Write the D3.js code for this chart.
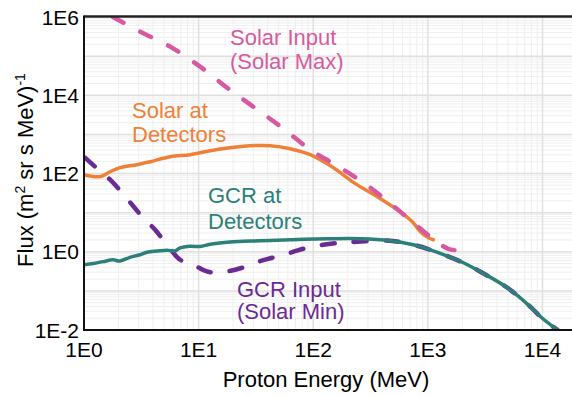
<!DOCTYPE html>
<html>
<head>
<meta charset="utf-8">
<script src="https://cdn.jsdelivr.net/npm/d3@7"></script>
<style>
  body { margin: 0; background: #fff; }
  svg { display: block; font-family: "Liberation Sans", Arial, sans-serif; }
</style>
</head>
<body>
<svg id="chart" width="572" height="396"></svg>
<script>
// proton energy (MeV) and flux ((m2 sr s MeV)^-1)
var solarInputE = [1.79, 3.08, 5.64, 10.3, 17.7, 29.9, 53.6, 94.2, 172, 315, 575, 1052, 1510, 2128];
var solarInputF = [1.0e6, 4.24e5, 1.75e5, 5.39e4, 1.56e4, 5110, 1480, 406, 141, 43.3, 10.5, 2.42, 1.19, 1.06];

var solarDetE = [1, 1.38, 1.69, 2.06, 2.90, 3.77, 5.64, 8.43, 12.6, 18.8, 28.2, 42.1, 63, 94, 150, 233, 362, 575, 732, 860, 1010, 1117];
var solarDetF = [93, 83, 111, 141, 168, 200, 269, 303, 383, 457, 514, 514, 431, 303, 141, 55, 25.5, 10.5, 5.85, 3.25, 2.28, 2.03];

var gcrInputE = [1.02, 1.25, 1.69, 2.15, 2.63, 3.28, 4.17, 5.31, 6.89, 8.95, 12.1, 17.0, 24.0, 33.1, 43.9, 63, 88.7, 122, 172, 242, 470, 747, 1052, 2042, 2875, 4945, 7850, 9620, 13800];
var gcrInputF = [254, 149, 69.4, 32.3, 15.9, 7.41, 3.65, 1.51, 0.624, 0.465, 0.308, 0.308, 0.39, 0.555, 0.703, 0.942, 1.27, 1.51, 1.70, 1.80, 1.91, 1.51, 1.12, 0.523, 0.308, 0.12, 0.039, 0.0218, 0.0095];

var gcrDetE = [1, 1.20, 1.47, 1.79, 2.06, 2.52, 3.08, 3.55, 4.34, 5.31, 6.23, 6.89, 8.43, 10.3, 12.6, 18.8, 34.4, 63, 141, 257, 470, 747, 1052, 2042, 2875, 4945, 7850, 9620, 13800];
var gcrDetF = [0.465, 0.50, 0.56, 0.62, 0.58, 0.72, 0.84, 0.97, 1.04, 1.10, 1.05, 1.25, 1.38, 1.36, 1.55, 1.78, 1.91, 2.03, 2.15, 2.15, 1.91, 1.51, 1.12, 0.523, 0.308, 0.12, 0.039, 0.0218, 0.0095];

var xTickValues = [1, 10, 100, 1000, 10000];
var xTickLabels = ["1E0", "1E1", "1E2", "1E3", "1E4"];
var yTickValues = [1e-2, 1e0, 1e2, 1e4, 1e6];
var yTickLabels = ["1E-2", "1E0", "1E2", "1E4", "1E6"];

var svg = d3.select("#chart");
var padL = 84, padR = 577, padT = 17, padB = 330, W = 572;

var x = d3.scaleLog().domain([1, 2e4]).range([padL, padR]);
var y = d3.scaleLog().domain([1e-2, 1e6]).range([padB, padT]);

// grid
var grid = svg.append("g");
var minorX = [], minorY = [];
for (var p = 0; p <= 4; p++) {
    for (var m = 2; m <= 9; m++) {
        if (m * Math.pow(10, p) <= 2e4) minorX.push(m * Math.pow(10, p));
    }
}
for (var q = -2; q < 6; q++) {
    for (var n = 2; n <= 9; n++) minorY.push(n * Math.pow(10, q));
}
grid.selectAll(".mx").data(minorX).enter().append("line")
    .attr("x1", d => x(d)).attr("x2", d => x(d))
    .attr("y1", padT).attr("y2", padB)
    .attr("stroke", "#efefef").attr("stroke-width", 1);
grid.selectAll(".my").data(minorY).enter().append("line")
    .attr("x1", padL).attr("x2", W)
    .attr("y1", d => y(d)).attr("y2", d => y(d))
    .attr("stroke", "#efefef").attr("stroke-width", 1);
grid.selectAll(".Mx").data([10, 100, 1000, 10000]).enter().append("line")
    .attr("x1", d => x(d)).attr("x2", d => x(d))
    .attr("y1", padT).attr("y2", padB)
    .attr("stroke", "#e0e0e0").attr("stroke-width", 1.5);
grid.selectAll(".My").data([1e-1, 1, 10, 100, 1e3, 1e4, 1e5]).enter().append("line")
    .attr("x1", padL).attr("x2", W)
    .attr("y1", d => y(d)).attr("y2", d => y(d))
    .attr("stroke", "#e0e0e0").attr("stroke-width", 1.5);

// curves
svg.append("clipPath").attr("id", "clip").append("rect")
    .attr("x", padL).attr("y", padT).attr("width", W - padL).attr("height", padB - padT);
var plot = svg.append("g").attr("clip-path", "url(#clip)");
var line = d3.line().x(d => x(d[0])).y(d => y(d[1])).curve(d3.curveCatmullRom.alpha(0.5));

function draw(E, F, colour, width, dash) {
    var path = plot.append("path")
        .datum(E.map((e, i) => [e, F[i]]))
        .attr("d", line)
        .attr("fill", "none")
        .attr("stroke", colour)
        .attr("stroke-width", width)
        .attr("stroke-linejoin", "round")
        .attr("stroke-linecap", "round");
    if (dash) path.attr("stroke-dasharray", dash);
}

draw(gcrInputE, gcrInputF, "#6c2a93", 4.5, "13,19");
draw(gcrDetE, gcrDetF, "#2b8079", 3.5);
draw(solarDetE, solarDetF, "#ee8137", 3.5);
draw(solarInputE, solarInputF, "#d75aa0", 4.5, "12,19");

// axes frame
svg.append("line").attr("x1", padL).attr("x2", W).attr("y1", padT - 0.5).attr("y2", padT - 0.5)
    .attr("stroke", "#222").attr("stroke-width", 2.5);
svg.append("line").attr("x1", padL).attr("x2", padL).attr("y1", padT - 1.5).attr("y2", padB + 1)
    .attr("stroke", "#111").attr("stroke-width", 2);
svg.append("line").attr("x1", padL - 1).attr("x2", W).attr("y1", padB).attr("y2", padB)
    .attr("stroke", "#111").attr("stroke-width", 2);

// tick labels
svg.selectAll(".xt").data(xTickValues).enter().append("text")
    .attr("x", d => x(d)).attr("y", 357)
    .attr("text-anchor", "middle").attr("font-size", 21).attr("fill", "#000")
    .text((d, i) => xTickLabels[i]);
svg.selectAll(".yt").data(yTickValues).enter().append("text")
    .attr("x", 79).attr("y", d => y(d)).attr("dy", "0.36em")
    .attr("text-anchor", "end").attr("font-size", 21).attr("fill", "#000")
    .text((d, i) => yTickLabels[i]);

// axis titles
svg.append("text").attr("x", 326).attr("y", 387)
    .attr("text-anchor", "middle").attr("font-size", 22).attr("fill", "#000")
    .text("Proton Energy (MeV)");
var yt = svg.append("text").attr("transform", "translate(33,170) rotate(-90)")
    .attr("text-anchor", "middle").attr("font-size", 22).attr("fill", "#000");
yt.append("tspan").text("Flux (m");
yt.append("tspan").attr("dy", -8).attr("font-size", 14).text("2");
yt.append("tspan").attr("dy", 8).text(" sr s MeV)");
yt.append("tspan").attr("dy", -8).attr("font-size", 14).text("-1");

// curve labels
function label(lines, px, ys, colour) {
    var t = svg.append("text").attr("font-size", 22).attr("fill", colour);
    lines.forEach(function(s, i) {
        t.append("tspan").attr("x", px).attr("y", ys[i]).text(s);
    });
}
label(["Solar Input", "(Solar Max)"], 230, [45, 69], "#d75aa0");
label(["Solar at", "Detectors"], 132, [118, 142], "#ee8137");
label(["GCR at", "Detectors"], 208, [203, 229], "#2b8079");
label(["GCR Input", "(Solar Min)"], 237, [297, 319], "#6c2a93");
</script>
</body>
</html>
